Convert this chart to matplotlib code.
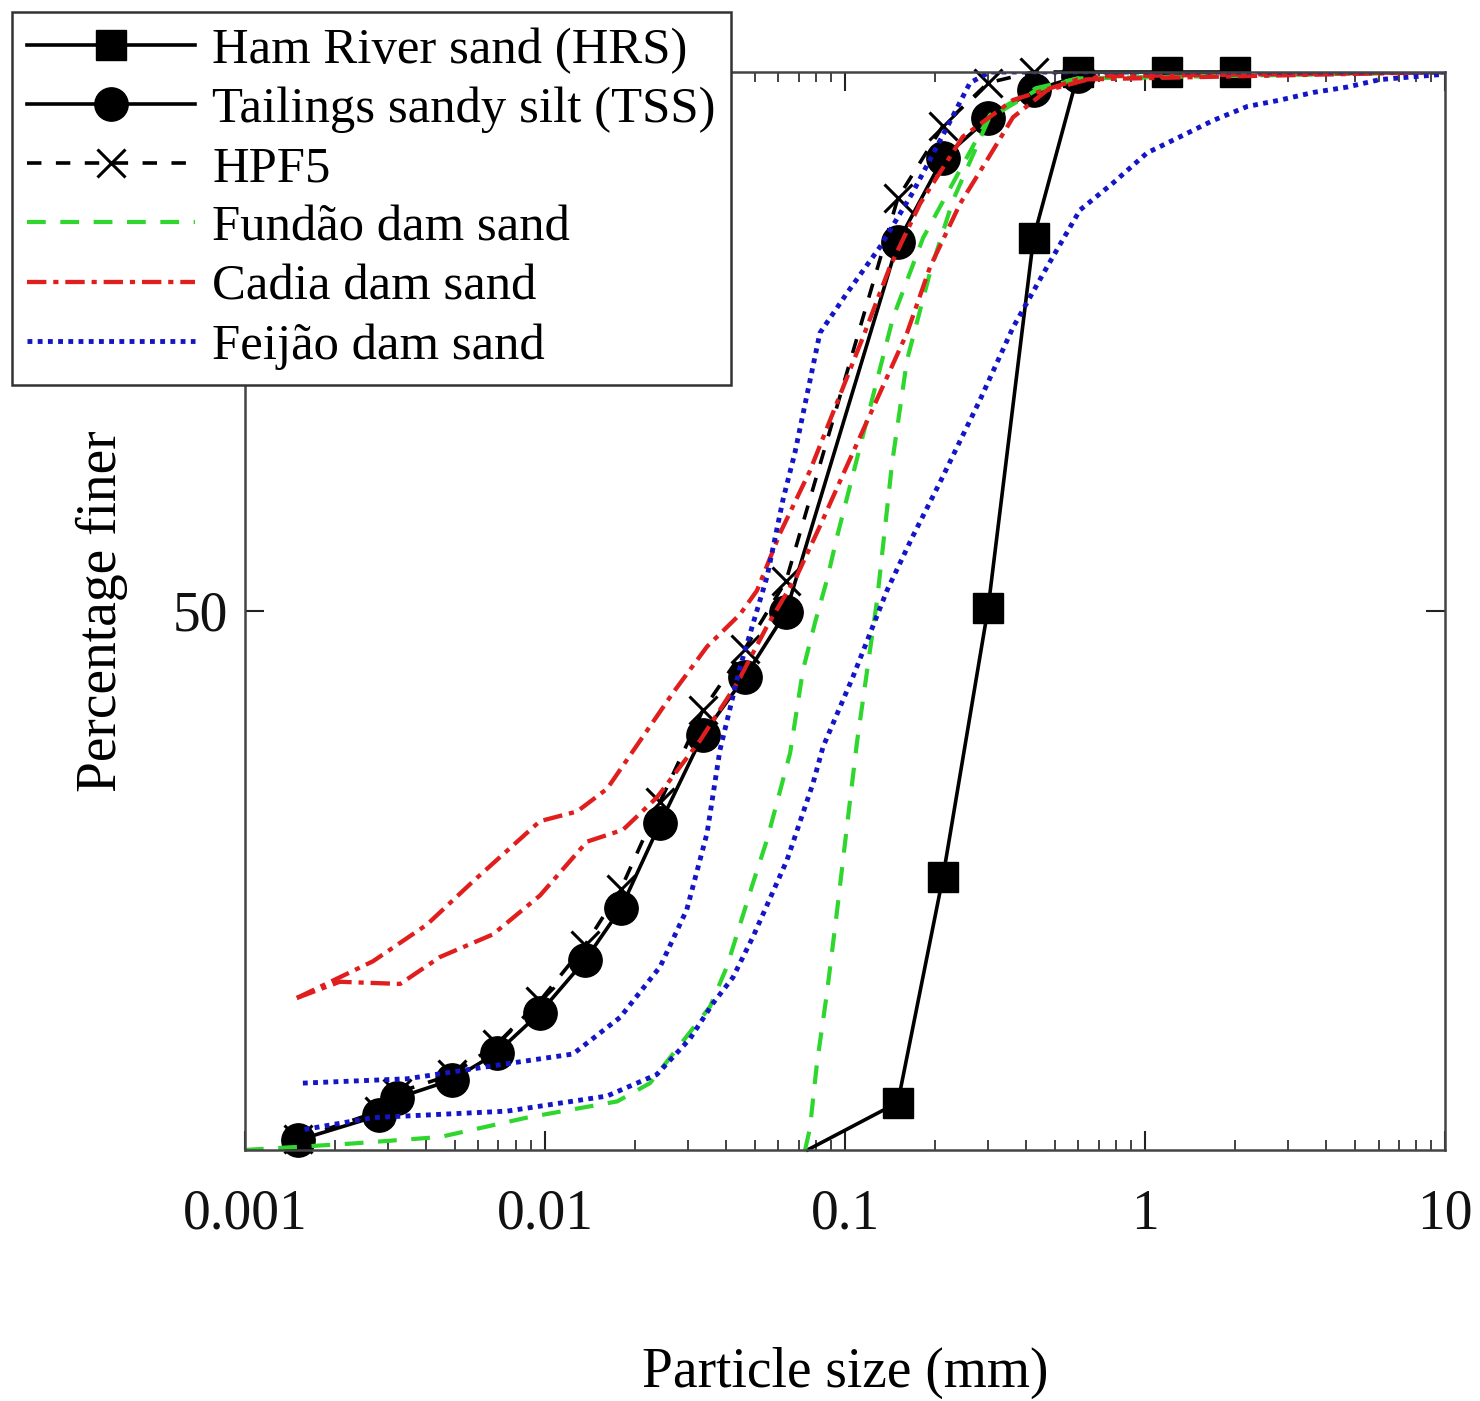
import numpy as np
import matplotlib
matplotlib.use("Agg")
import matplotlib.pyplot as plt

plt.rcParams['font.family'] = ['Liberation Serif', 'DejaVu Serif']

# particle size (mm) and percentage finer for each material
hrs_size = [0.075, 0.15, 0.212, 0.3, 0.425, 0.6, 1.18, 2.0]
hrs_pass = [0, 4.4, 25.3, 50.3, 84.6, 100, 100, 100]

tss_size = [0.0015, 0.0028, 0.0032, 0.0049, 0.0069, 0.0096, 0.0136, 0.0179,
            0.0242, 0.0336, 0.0464, 0.0636, 0.15, 0.212, 0.3, 0.425, 0.6]
tss_pass = [0.9, 3.2, 4.8, 6.5, 9.0, 12.7, 17.6, 22.4,
            30.3, 38.5, 43.9, 49.9, 84.2, 92.0, 95.7, 98.3, 99.6]

hpf_size = tss_size
hpf_pass = [1.0, 3.6, 5.3, 7.0, 9.8, 13.8, 19.0, 24.2,
            32.3, 40.8, 46.5, 52.8, 88.3, 95.0, 99.0, 100, 100]

fundao1_size = [0.001, 0.00153, 0.00229, 0.00447, 0.00871, 0.0174, 0.0224,
                0.0355, 0.0404, 0.0494, 0.055, 0.0656, 0.0724, 0.0794, 0.0871,
                0.0941, 0.1105, 0.1445, 0.182, 0.304, 0.433, 0.596, 10]
fundao1_pass = [0, 0.3, 0.6, 1.2, 3.0, 4.5, 6.2,
                13.3, 17.0, 24.8, 28.8, 36.8, 44.5, 48.9, 52.9,
                56.9, 64.5, 77.2, 84.6, 96.0, 98.5, 99.4, 100]

fundao2_size = [0.0736, 0.0764, 0.0806, 0.0871, 0.0941, 0.1016, 0.1096, 0.1184,
                0.1279, 0.1435, 0.161, 0.192, 0.229, 0.302, 0.433, 0.596, 10]
fundao2_pass = [0, 2.0, 8.0, 14.6, 22.2, 30.1, 37.8, 44.4,
                51.0, 63.7, 73.3, 81.4, 88.1, 95.7, 98.3, 99.4, 100]

cadia1_size = [0.00149, 0.00267, 0.00404, 0.00575, 0.00962, 0.0128, 0.0161,
               0.0267, 0.0347, 0.0447, 0.0509, 0.0607, 0.0764, 0.1148, 0.141,
               0.178, 0.247, 0.363, 0.596, 10]
cadia1_pass = [14.1, 17.5, 20.9, 24.9, 30.5, 31.4, 33.5,
               42.4, 46.7, 49.7, 51.9, 57.2, 63.0, 75.4, 81.9,
               87.8, 94.0, 97.4, 99.3, 100]

cadia2_size = [0.00149, 0.00207, 0.00329, 0.00447, 0.00671, 0.00962, 0.0138,
               0.0182, 0.0236, 0.0329, 0.0437, 0.055, 0.0692, 0.0826, 0.1016,
               0.161, 0.192, 0.242, 0.297, 0.363, 0.471, 0.708, 10]
cadia2_pass = [14.1, 15.6, 15.4, 17.9, 20.0, 23.6, 28.6,
               29.7, 32.7, 38.0, 43.3, 48.6, 53.3, 57.9, 63.5,
               75.8, 81.9, 87.8, 91.8, 95.8, 98.3, 99.6, 100]

feijao1_size = [0.00156, 0.00347, 0.00747, 0.0124, 0.0178, 0.0242, 0.0297,
                0.0347, 0.0383, 0.0447, 0.055, 0.0621, 0.0681, 0.0825, 0.1016,
                0.131, 0.168, 0.219, 0.261, 0.304, 10]
feijao1_pass = [6.2, 6.6, 8.0, 8.9, 12.3, 17.0, 22.3,
                29.4, 37.1, 44.8, 53.2, 60.3, 64.7, 75.8, 79.5,
                83.8, 88.8, 94.9, 99.0, 100, 100]

feijao2_size = [0.00158, 0.00267, 0.00747, 0.0161, 0.0236, 0.0304, 0.0363,
                0.0423, 0.0494, 0.0641, 0.0782, 0.0845, 0.1063, 0.138, 0.168,
                0.207, 0.282, 0.363, 0.471, 0.607, 0.782, 1.016, 1.31, 1.685,
                2.19, 2.82, 3.63, 4.71, 6.07, 10]
feijao2_pass = [1.9, 3.0, 3.6, 5.0, 7.0, 10.3, 13.6,
                16.0, 19.8, 26.9, 34.0, 37.4, 43.9, 51.9, 56.9,
                61.9, 69.6, 76.3, 81.9, 87.2, 89.7, 92.5, 94.0, 95.5,
                96.8, 97.4, 98.1, 98.6, 99.3, 99.8]

green = '#2ed62e'
red = '#e01e1e'
blue = '#1515c8'

fig = plt.figure(figsize=(14.8, 14.01), dpi=100)
ax = fig.add_axes([0.1655, 0.1792, 0.8109, 0.7694])

# first HRS point sits on the axis without a marker
ax.plot(hrs_size, hrs_pass, '-', color='k', lw=2.6, marker='s', ms=21,
        markevery=list(range(1, len(hrs_size))), clip_on=False,
        label='Ham River sand (HRS)')
ax.plot(tss_size, tss_pass, '-', color='k', lw=2.6, marker='o', ms=24,
        clip_on=False, label='Tailings sandy silt (TSS)')
ax.plot(hpf_size, hpf_pass, color='k', lw=2.6, ls=(0, (4, 4)), marker='x',
        ms=20, mew=2.2, clip_on=False, label='HPF5')
ax.plot(fundao1_size, fundao1_pass, color=green, lw=3, ls=(0, (4.5, 3.5)),
        label='Fundão dam sand')
ax.plot(fundao2_size, fundao2_pass, color=green, lw=3, ls=(0, (4.5, 3.5)))
ax.plot(cadia1_size, cadia1_pass, color=red, lw=3.1, ls=(0, (4.5, 1.6, 1.2, 1.6)),
        label='Cadia dam sand')
ax.plot(cadia2_size, cadia2_pass, color=red, lw=3.1, ls=(0, (4.5, 1.6, 1.2, 1.6)))
ax.plot(feijao1_size, feijao1_pass, color=blue, lw=3.5, ls=(0, (1, 1.1)),
        label='Feijão dam sand')
ax.plot(feijao2_size, feijao2_pass, color=blue, lw=3.5, ls=(0, (1, 1.1)))

ax.set_xscale('log')
ax.set_xlim(0.001, 10)
ax.set_ylim(0, 100)
ax.set_xticks([0.001, 0.01, 0.1, 1, 10])
ax.set_xticklabels(['0.001', '0.01', '0.1', '1', '10'])
ax.set_yticks([50])
ax.set_yticklabels(['50'])

ax.tick_params(which='both', direction='in', top=True, right=True,
               colors='#222222', labelcolor='#111111')
ax.tick_params(which='major', length=14, width=1.5, labelsize=40)
ax.tick_params(which='minor', length=7, width=1.2)
ax.tick_params(axis='x', which='major', pad=28)
ax.tick_params(axis='y', which='major', pad=12)
for s in ax.spines.values():
    s.set_linewidth(1.8)
    s.set_color('#444444')

ax.set_xlabel('Particle size (mm)', fontsize=40, labelpad=76)
ax.set_ylabel('Percentage finer', fontsize=40, labelpad=32)

leg = fig.legend(loc='upper left', bbox_to_anchor=(12 / 1480, 1 - 12 / 1401),
                 bbox_transform=fig.transFigure, borderaxespad=0,
                 fontsize=36.5, handlelength=3.3, handletextpad=0.35,
                 labelspacing=0.25, borderpad=0.3, fancybox=False,
                 framealpha=1, edgecolor='#333333')
leg.get_frame().set_linewidth(1.8)
leg.set_zorder(5)

fig.savefig('out.png', dpi=100)
